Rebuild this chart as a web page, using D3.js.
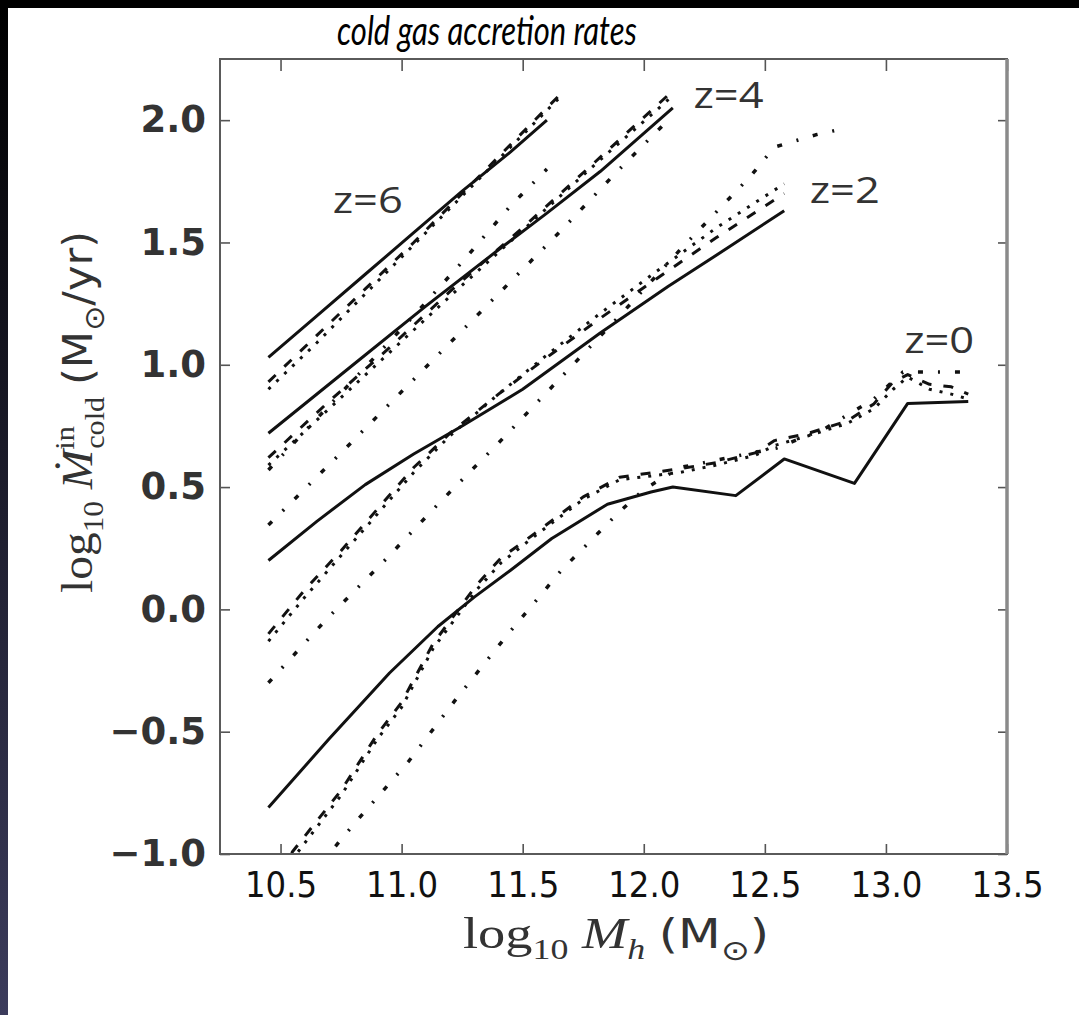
<!DOCTYPE html>
<html>
<head>
<meta charset="utf-8">
<script src="https://cdn.jsdelivr.net/npm/d3@7"></script>
<style>
  body { margin: 0; background: #000; }
</style>
</head>
<body>
<div id="chart"></div>
<script>
// axis ticks
const massTicks = [10.5, 11.0, 11.5, 12.0, 12.5, 13.0, 13.5];
const rateTicks = [-1.0, -0.5, 0.0, 0.5, 1.0, 1.5, 2.0];

// redshift labels and where they sit (data units)
const zLabels = ["z=6", "z=4", "z=2", "z=0"];
const zLabelAt = [[10.86, 1.62], [12.35, 2.05], [12.83, 1.66], [13.22, 1.05]];

// [log10 Mh, log10 Mdot]
const z6_solid   = [[10.45,1.03],[10.65,1.2],[10.85,1.37],[11.05,1.54],[11.25,1.71],[11.45,1.87],[11.6,2.0]];
const z6_dashed  = [[10.45,0.93],[10.65,1.12],[10.85,1.31],[11.05,1.5],[11.25,1.7],[11.45,1.9],[11.65,2.1]];
const z6_dotted  = [[10.45,0.9],[10.65,1.09],[10.85,1.29],[11.05,1.49],[11.25,1.69],[11.45,1.89],[11.65,2.09]];
const z6_dashdot = [[10.45,0.57],[10.65,0.78],[10.85,0.99],[11.05,1.2],[11.25,1.42],[11.45,1.65],[11.6,1.8]];

const z4_solid   = [[10.45,0.72],[10.8,1.0],[11.1,1.24],[11.4,1.47],[11.6,1.62],[11.82,1.79],[12.12,2.05]];
const z4_dashed  = [[10.45,0.62],[10.7,0.85],[10.95,1.07],[11.2,1.3],[11.5,1.56],[11.8,1.83],[12.12,2.12]];
const z4_dotted  = [[10.45,0.59],[10.7,0.82],[10.95,1.05],[11.2,1.28],[11.5,1.55],[11.8,1.82],[12.12,2.1]];
const z4_dashdot = [[10.45,0.345],[10.75,0.64],[11.05,0.94],[11.35,1.24],[11.65,1.54],[11.89,1.79],[12.1,2.0]];

const z2_solid   = [[10.45,0.2],[10.65,0.36],[10.85,0.51],[11.05,0.635],[11.25,0.75],[11.5,0.9],[11.82,1.13],[12.1,1.32],[12.35,1.48],[12.58,1.63]];
const z2_dashed  = [[10.45,-0.1],[10.6,0.08],[10.75,0.24],[10.9,0.41],[11.05,0.58],[11.2,0.72],[11.4,0.88],[11.6,1.03],[11.82,1.19],[12.05,1.35],[12.3,1.52],[12.58,1.7]];
const z2_dotted  = [[10.45,-0.13],[10.6,0.05],[10.75,0.22],[10.9,0.39],[11.05,0.56],[11.2,0.71],[11.4,0.88],[11.6,1.04],[11.82,1.21],[12.05,1.38],[12.3,1.56],[12.58,1.74]];
const z2_dashdot = [[10.45,-0.3],[10.69,-0.04],[10.93,0.2],[11.16,0.44],[11.4,0.68],[11.65,0.94],[11.9,1.2],[12.15,1.47],[12.44,1.77],[12.54,1.89],[12.71,1.94],[12.8,1.96]];

const z0_solid   = [[10.45,-0.81],[10.7,-0.53],[10.95,-0.26],[11.15,-0.07],[11.3,0.05],[11.45,0.16],[11.62,0.29],[11.85,0.43],[12.03,0.48],[12.12,0.5],[12.38,0.465],[12.58,0.615],[12.87,0.515],[13.09,0.842],[13.34,0.85]];
const z0_dashed  = [[10.45,-1.15],[10.55,-0.99],[10.75,-0.74],[10.9,-0.51],[11.0,-0.38],[11.13,-0.14],[11.31,0.1],[11.41,0.21],[11.55,0.31],[11.75,0.46],[11.9,0.54],[12.15,0.575],[12.3,0.6],[12.46,0.64],[12.54,0.69],[12.68,0.72],[12.84,0.77],[12.95,0.84],[13.03,0.93],[13.09,0.96],[13.18,0.92],[13.27,0.91],[13.34,0.88]];
const z0_dotted  = [[10.45,-1.18],[10.55,-1.02],[10.75,-0.76],[10.9,-0.53],[11.0,-0.4],[11.13,-0.16],[11.31,0.08],[11.41,0.19],[11.55,0.3],[11.75,0.45],[11.9,0.53],[12.15,0.56],[12.3,0.59],[12.46,0.63],[12.54,0.67],[12.68,0.71],[12.84,0.76],[12.95,0.82],[13.03,0.9],[13.09,0.95],[13.18,0.9],[13.27,0.88],[13.34,0.86]];
const z0_dashdot = [[10.45,-1.33],[10.7,-1.0],[10.81,-0.87],[11.03,-0.62],[11.23,-0.36],[11.44,-0.1],[11.66,0.16],[11.89,0.39],[12.0,0.49],[12.15,0.58],[12.35,0.62],[12.55,0.66],[12.75,0.74],[12.95,0.86],[13.07,0.97],[13.2,0.97],[13.35,0.97]];

const series = [
  {data: z6_dashdot, style: "dashdot"}, {data: z4_dashdot, style: "dashdot"},
  {data: z2_dashdot, style: "dashdot"}, {data: z0_dashdot, style: "dashdot"},
  {data: z6_dotted, style: "dotted"},   {data: z4_dotted, style: "dotted"},
  {data: z2_dotted, style: "dotted"},   {data: z0_dotted, style: "dotted"},
  {data: z6_dashed, style: "dashed"},   {data: z4_dashed, style: "dashed"},
  {data: z2_dashed, style: "dashed"},   {data: z0_dashed, style: "dashed"},
  {data: z6_solid, style: "solid"},     {data: z4_solid, style: "solid"},
  {data: z2_solid, style: "solid"},     {data: z0_solid, style: "solid"}
];

const dashes = {solid: null, dashed: "10,12", dotted: "3,8", dashdot: "5,15,2,15"};
const widths = {solid: 3, dashed: 3, dotted: 3, dashdot: 3.5};

const W = 1079, H = 1015;
const margin = {top: 59, right: 72, bottom: 161, left: 220};

const svg = d3.select("#chart").append("svg")
  .attr("width", W)
  .attr("height", H);

// slide background: black frame, bluish strip on the left, white page
const defs = svg.append("defs");
const grad = defs.append("linearGradient")
  .attr("id", "strip").attr("x1", 0).attr("y1", 0).attr("x2", 0).attr("y2", 1);
grad.append("stop").attr("offset", "0%").attr("stop-color", "#000");
grad.append("stop").attr("offset", "100%").attr("stop-color", "#3c3c5c");

svg.append("rect").attr("width", W).attr("height", H).attr("fill", "#000");
svg.append("rect").attr("x", 0).attr("y", 8).attr("width", 8).attr("height", H - 8).attr("fill", "url(#strip)");
svg.append("rect").attr("x", 8).attr("y", 8).attr("width", W - 8).attr("height", H - 8).attr("fill", "#fff");

const x = d3.scaleLinear().domain([10.25, 13.5]).range([margin.left, W - margin.right]);
const y = d3.scaleLinear().domain([-1.0, 2.25]).range([H - margin.bottom, margin.top]);

defs.append("clipPath").attr("id", "plot")
  .append("rect")
  .attr("x", margin.left).attr("y", margin.top)
  .attr("width", W - margin.left - margin.right)
  .attr("height", H - margin.top - margin.bottom);

// lines
const line = d3.line().x(d => x(d[0])).y(d => y(d[1]));

svg.append("g").attr("clip-path", "url(#plot)")
  .selectAll("path")
  .data(series)
  .enter()
  .append("path")
  .attr("d", d => line(d.data))
  .attr("fill", "none")
  .attr("stroke", "#111")
  .attr("stroke-width", d => widths[d.style])
  .attr("stroke-dasharray", d => dashes[d.style])
  .attr("stroke-linejoin", "round");

// axes, ticks pointing inwards on every side
const fmt = d3.format(".1f");
const axisColor = "#555";

const axB = svg.append("g")
  .attr("transform", `translate(0,${H - margin.bottom})`)
  .call(d3.axisBottom(x).tickValues(massTicks).tickSize(-10).tickPadding(17).tickFormat(fmt));
const axT = svg.append("g")
  .attr("transform", `translate(0,${margin.top})`)
  .call(d3.axisTop(x).tickValues(massTicks).tickSize(-12).tickFormat(""));
const axL = svg.append("g")
  .attr("transform", `translate(${margin.left},0)`)
  .call(d3.axisLeft(y).tickValues(rateTicks).tickSize(-10).tickPadding(14).tickFormat(fmt));
const axR = svg.append("g")
  .attr("transform", `translate(${W - margin.right},0)`)
  .call(d3.axisRight(y).tickValues(rateTicks).tickSize(-9).tickFormat(""));

[axB, axT, axL, axR].forEach(a => {
  a.select(".domain").remove();
  a.selectAll(".tick line").attr("stroke", axisColor).attr("stroke-width", 1.6);
});

axB.selectAll("text")
  .style("font-family", "'DejaVu Sans Condensed', 'DejaVu Sans', sans-serif")
  .style("font-size", "36px")
  .attr("fill", "#111");

axL.selectAll("text")
  .style("font-family", "'DejaVu Sans', sans-serif")
  .style("font-weight", "bold")
  .style("font-size", "37px")
  .attr("fill", "#333");

// frame
svg.append("rect")
  .attr("x", margin.left).attr("y", margin.top)
  .attr("width", W - margin.left - margin.right)
  .attr("height", H - margin.top - margin.bottom)
  .attr("fill", "none")
  .attr("stroke", "#5a5a5a")
  .attr("stroke-width", 2);
svg.append("line")
  .attr("x1", W - margin.right).attr("x2", W - margin.right)
  .attr("y1", margin.top).attr("y2", H - margin.bottom)
  .attr("stroke", "#8a8a8a")
  .attr("stroke-width", 3.5);

// redshift labels
svg.selectAll(".zlab")
  .data(zLabels)
  .enter()
  .append("text")
  .attr("class", "zlab")
  .attr("x", (d, i) => x(zLabelAt[i][0]))
  .attr("y", (d, i) => y(zLabelAt[i][1]))
  .attr("text-anchor", "middle")
  .attr("textLength", 70)
  .attr("lengthAdjust", "spacingAndGlyphs")
  .style("font-family", "'Open Sans', sans-serif")
  .style("font-size", "37px")
  .attr("fill", "#333")
  .text(d => d);

// title
svg.append("text")
  .attr("x", 487)
  .attr("y", 45)
  .attr("text-anchor", "middle")
  .attr("textLength", 300)
  .attr("lengthAdjust", "spacingAndGlyphs")
  .style("font-family", "Lato, sans-serif")
  .style("font-style", "italic")
  .style("font-size", "40px")
  .attr("fill", "#000")
  .text("cold gas accretion rates");

// x label: log10 M_h (M_sun)
const xl = svg.append("text")
  .attr("x", 616)
  .attr("y", 948)
  .attr("text-anchor", "middle")
  .attr("textLength", 306)
  .attr("lengthAdjust", "spacingAndGlyphs")
  .attr("fill", "#333")
  .style("font-family", "'Liberation Serif', serif")
  .style("font-size", "44px");
xl.append("tspan").text("log");
xl.append("tspan").attr("dy", 11).style("font-size", "29px").text("10");
xl.append("tspan").attr("dy", -11).attr("dx", 11).style("font-style", "italic").text("M");
xl.append("tspan").attr("dy", 11).style("font-style", "italic").style("font-size", "29px").text("h");
xl.append("tspan").attr("dy", -11).attr("dx", 11).style("font-family", "'DejaVu Sans', sans-serif").style("font-size", "40px").text("(M");
xl.append("tspan").attr("dy", 12).style("font-family", "'DejaVu Sans', sans-serif").style("font-size", "28px").text("\u2299");
xl.append("tspan").attr("dy", -12).style("font-family", "'DejaVu Sans', sans-serif").style("font-size", "40px").text(")");

// y label: log10 Mdot^in_cold (M_sun/yr)
const yl = svg.append("text")
  .attr("transform", "translate(92,412) rotate(-90)")
  .attr("text-anchor", "middle")
  .attr("textLength", 362)
  .attr("lengthAdjust", "spacingAndGlyphs")
  .attr("fill", "#333")
  .style("font-family", "'Liberation Serif', serif")
  .style("font-size", "44px");
yl.append("tspan").text("log");
yl.append("tspan").attr("dy", 11).style("font-size", "29px").text("10");
yl.append("tspan").attr("dy", -11).attr("dx", 11).style("font-style", "italic").text("\u1E40");
yl.append("tspan").attr("dy", -18).style("font-size", "28px").text("in");
yl.append("tspan").attr("dy", 30).attr("dx", -21).style("font-size", "28px").text("cold");
yl.append("tspan").attr("dy", -12).attr("dx", 11).style("font-family", "'DejaVu Sans', sans-serif").style("font-size", "40px").text("(M");
yl.append("tspan").attr("dy", 12).style("font-family", "'DejaVu Sans', sans-serif").style("font-size", "28px").text("\u2299");
yl.append("tspan").attr("dy", -12).style("font-family", "'DejaVu Sans', sans-serif").style("font-size", "40px").text("/yr)");
</script>
</body>
</html>
